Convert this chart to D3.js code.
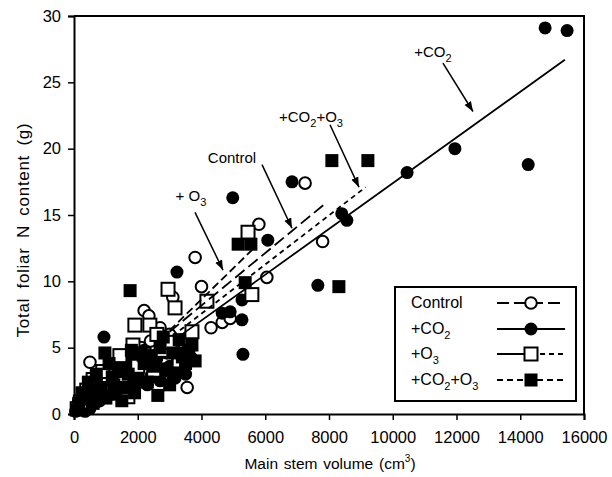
<!DOCTYPE html>
<html><head><meta charset="utf-8">
<script src="https://cdn.jsdelivr.net/npm/d3@7"></script>
<style>
body{margin:0;background:#fff}
svg{display:block}
text{font-family:"Liberation Sans",Arial,Helvetica,sans-serif;fill:#000}
</style>
</head><body>
<svg id="c" width="612" height="477"></svg>
<script>
// ---------- data (x = main stem volume cm3, y = total foliar N g) ----------
const controlX = [100,150,250,400,500,600,800,1000,1200,1500,1700,1900,2100,2200,2350,2400,2500,2700,2900,3100,3200,3400,3550,3800,4000,4300,4650,4900,5800,6050,7250,7800,2000,3000,1300];
const controlY = [0.5,1.0,1.3,1.5,3.9,2.0,1.0,2.5,3.0,3.5,2.0,4.5,5.0,7.8,7.4,5.5,3.0,6.5,4.0,8.8,5.0,4.5,2.0,11.8,9.6,6.5,6.9,7.2,14.3,10.3,17.4,13.0,4.2,6.0,1.8];

const co2X = [50,100,150,200,250,300,400,600,940,800,1100,1300,1600,1800,2000,2200,2500,2700,2900,3100,3170,3230,3400,3700,4650,4900,4980,5270,5270,5300,6080,6840,7650,8400,8560,10450,11950,14250,14780,15470,3300,2300,
              350,500,700,900,1200,1400,1500,1700,1900,2100,2400,2600,2800,3000,3500];
const co2Y = [0.2,0.6,0.3,1.0,0.5,1.5,0.8,1.2,5.8,2.0,2.6,3.5,2.8,4.2,3.0,4.8,3.8,2.5,4.6,2.8,2.7,10.7,5.2,4.2,7.6,7.7,16.3,8.6,7.1,4.5,13.1,17.5,9.7,15.1,14.6,18.2,20.0,18.8,29.1,28.9,3.5,2.2,
              0.2,0.4,0.9,1.4,1.5,2.0,4.0,3.4,2.2,3.8,2.8,4.2,3.2,3.6,3.0];

const o3X = [100,200,400,600,800,1070,1200,1440,1690,1850,1910,2000,2200,2380,2600,2800,2950,3010,3170,3300,3500,4170,5460,5580,1500,2500,3700,300,900];
const o3Y = [0.4,0.9,1.8,2.6,2.0,2.7,3.5,4.4,1.3,5.2,6.7,3.6,4.5,6.7,6.0,4.8,9.4,5.4,8.0,4.0,5.5,8.5,13.7,9.0,2.3,3.3,6.2,1.2,3.2];

const co2o3X = [80,150,250,450,550,700,970,1000,1200,1400,1600,1760,1800,2000,2200,2400,2630,2700,2900,3100,3300,3600,3800,5150,5370,5550,8090,8310,9220,1300,2800,
                350,600,850,1100,1250,1500,1700,1900,2100,2300,2500,3000,3400,3700,3500];
const co2o3Y = [0.3,0.8,1.6,2.4,1.8,3.0,4.6,1.2,2.8,3.4,2.0,9.3,4.8,2.6,3.8,4.4,1.4,5.0,3.4,4.6,5.6,4.8,4.0,12.8,9.9,12.8,19.1,9.6,19.1,1.5,5.8,
                1.2,0.8,2.0,3.8,2.2,1.0,3.0,1.6,4.6,2.4,3.6,2.2,4.3,5.2,3.8];

// regression line end points [x0,y0,x1,y1]
const controlFit = [3000,6.2,7900,15.9];
const co2Fit     = [3300,5.85,15400,26.7];
const o3Fit      = [3000,6.3,5600,12.4];
const co2o3Fit   = [3100,5.9,9150,17.1];

const xTicks = [0,2000,4000,6000,8000,10000,12000,14000,16000];
const yTicks = [0,5,10,15,20,25,30];

const legendNames = [[["Control",0]],[["+CO",0],["2",1]],[["+O",0],["3",1]],[["+CO",0],["2",1],["+O",0],["3",1]]];

// annotations: label parts, label centre (data), arrow start, arrow end (data)
const annoLabels = [[["+CO",0],["2",1]], [["+CO",0],["2",1],["+O",0],["3",1]], [["Control",0]], [["+ O",0],["3",1]]];
const annoLabelX = [11262, 7435, 4957, 3670];
const annoLabelY = [27.3, 22.4, 19.3, 16.4];
const annoFromX = [11575, 8031, 5898, 3796];
const annoFromY = [26.45, 21.8, 18.8, 15.2];
const annoToX   = [12517, 8940, 6839, 4674];
const annoToY   = [22.8, 17.1, 14.0, 10.85];

// ---------- drawing ----------
const svg = d3.select("#c");
const L=74, R=584, T=16, B=414;
const x = d3.scaleLinear().domain([0,16000]).range([L,R]);
const y = d3.scaleLinear().domain([0,30]).range([B,T]);

function rich(sel, parts, size, sub){
  let shifted=false;
  parts.forEach(([t,s])=>{
    const ts = sel.append("tspan").text(t);
    if(s && !shifted){ ts.attr("dy", 5).attr("font-size", sub); shifted=true; }
    else if(!s && shifted){ ts.attr("dy", -5).attr("font-size", size); shifted=false; }
    else if(s){ ts.attr("font-size", sub); }
  });
}

svg.append("defs").append("marker")
  .attr("id","ah").attr("viewBox","0 0 10 10").attr("refX",10).attr("refY",5)
  .attr("markerWidth",10).attr("markerHeight",10).attr("markerUnits","userSpaceOnUse")
  .attr("orient","auto")
  .append("path").attr("d","M0,1.2 L10,5 L0,8.8 Z").attr("fill","#000");

// points
const circ = (g, xs, ys, fill) => g.selectAll(null).data(xs.map((v,i)=>[v,ys[i]])).join("circle")
  .attr("cx",d=>x(d[0])).attr("cy",d=>y(d[1])).attr("r",fill==="#000"?6.5:5.8)
  .attr("fill",fill).attr("stroke","#000").attr("stroke-width",fill==="#000"?0:2);
const sq = (g, xs, ys, fill) => g.selectAll(null).data(xs.map((v,i)=>[v,ys[i]])).join("rect")
  .attr("x",d=>x(d[0])-6.5).attr("y",d=>y(d[1])-6.5).attr("width",13).attr("height",13)
  .attr("fill",fill).attr("stroke","#000").attr("stroke-width",fill==="#000"?0:2);

const gp = svg.append("g");
circ(gp.append("g"), controlX, controlY, "#fff");
circ(gp.append("g"), co2X, co2Y, "#000");
sq(gp.append("g"), o3X, o3Y, "#fff");
sq(gp.append("g"), co2o3X, co2o3Y, "#000");

// fit lines
const fits = [[controlFit,"12,5"],[co2Fit,null],[o3Fit,"8,4"],[co2o3Fit,"5,4"]];
fits.forEach(([f,dash])=>{
  svg.append("line").attr("x1",x(f[0])).attr("y1",y(f[1])).attr("x2",x(f[2])).attr("y2",y(f[3]))
    .attr("stroke","#000").attr("stroke-width",1.8).attr("stroke-dasharray",dash);
});

// annotations
annoLabels.forEach((parts,i)=>{
  const t = svg.append("text").attr("x",x(annoLabelX[i])).attr("y",y(annoLabelY[i])+5)
    .attr("text-anchor","middle").attr("font-size",15);
  rich(t, parts, 15, 11);
  svg.append("line").attr("x1",x(annoFromX[i])).attr("y1",y(annoFromY[i]))
    .attr("x2",x(annoToX[i])).attr("y2",y(annoToY[i]))
    .attr("stroke","#000").attr("stroke-width",1.5).attr("marker-end","url(#ah)");
});

// axes
const ax = svg.append("g").attr("transform",`translate(0,${B})`)
  .call(d3.axisBottom(x).tickValues(xTicks).tickFormat(d3.format("d")).tickSize(6).tickPadding(11));
const ay = svg.append("g").attr("transform",`translate(${L},0)`)
  .call(d3.axisLeft(y).tickValues(yTicks).tickSize(6).tickPadding(7));
[ax,ay].forEach(a=>{
  a.selectAll("text").attr("font-size",16.5).attr("font-family",'"Liberation Sans",Arial,sans-serif').attr("fill","#000");
  a.selectAll("line").attr("stroke-width",1.5);
  a.select(".domain").attr("stroke-width",2);
});
svg.append("path").attr("d",`M${L},${T}H${R}V${B}`).attr("fill","none").attr("stroke","#000").attr("stroke-width",2);

// axis titles
const xt = svg.append("text").attr("x",330).attr("y",469).attr("text-anchor","middle").attr("font-size",15.5)
  .attr("word-spacing",1.5);
xt.append("tspan").text("Main stem volume (cm");
xt.append("tspan").text("3").attr("font-size",10).attr("dy",-7);
xt.append("tspan").text(")").attr("dy",7);
svg.append("text").attr("transform","translate(29,230) rotate(-90)").attr("text-anchor","middle")
  .attr("font-size",17).attr("letter-spacing",0.7).attr("word-spacing",4)
  .text("Total  foliar N  content (g)");

// legend
const lg = svg.append("g");
lg.append("rect").attr("x",395).attr("y",287).attr("width",181).attr("height",114)
  .attr("fill","#fff").attr("stroke","#000").attr("stroke-width",2);
const rowY = [303,329,354,380];
legendNames.forEach((parts,i)=>{
  const t = lg.append("text").attr("x",411).attr("y",rowY[i]+5).attr("font-size",16);
  rich(t, parts, 16, 11);
});
const lx0=497, lx1=565, lxm=531;
// Control
lg.append("line").attr("x1",lx0).attr("x2",lx1).attr("y1",rowY[0]).attr("y2",rowY[0]).attr("stroke","#000").attr("stroke-width",1.8).attr("stroke-dasharray","12,5");
lg.append("circle").attr("cx",lxm).attr("cy",rowY[0]).attr("r",5.8).attr("fill","#fff").attr("stroke","#000").attr("stroke-width",2);
// CO2
lg.append("line").attr("x1",lx0).attr("x2",lx1).attr("y1",rowY[1]).attr("y2",rowY[1]).attr("stroke","#000").attr("stroke-width",1.8);
lg.append("circle").attr("cx",lxm).attr("cy",rowY[1]).attr("r",6.5).attr("fill","#000");
// O3
lg.append("line").attr("x1",lx0).attr("x2",lxm).attr("y1",rowY[2]).attr("y2",rowY[2]).attr("stroke","#000").attr("stroke-width",1.8);
lg.append("line").attr("x1",lxm).attr("x2",lx1).attr("y1",rowY[2]).attr("y2",rowY[2]).attr("stroke","#000").attr("stroke-width",1.8).attr("stroke-dasharray","5,4");
lg.append("rect").attr("x",lxm-6.5).attr("y",rowY[2]-6.5).attr("width",13).attr("height",13).attr("fill","#fff").attr("stroke","#000").attr("stroke-width",2);
// CO2+O3
lg.append("line").attr("x1",lx0).attr("x2",lx1).attr("y1",rowY[3]).attr("y2",rowY[3]).attr("stroke","#000").attr("stroke-width",1.8).attr("stroke-dasharray","6,4");
lg.append("rect").attr("x",lxm-6.5).attr("y",rowY[3]-6.5).attr("width",13).attr("height",13).attr("fill","#000");
</script>
</body></html>
